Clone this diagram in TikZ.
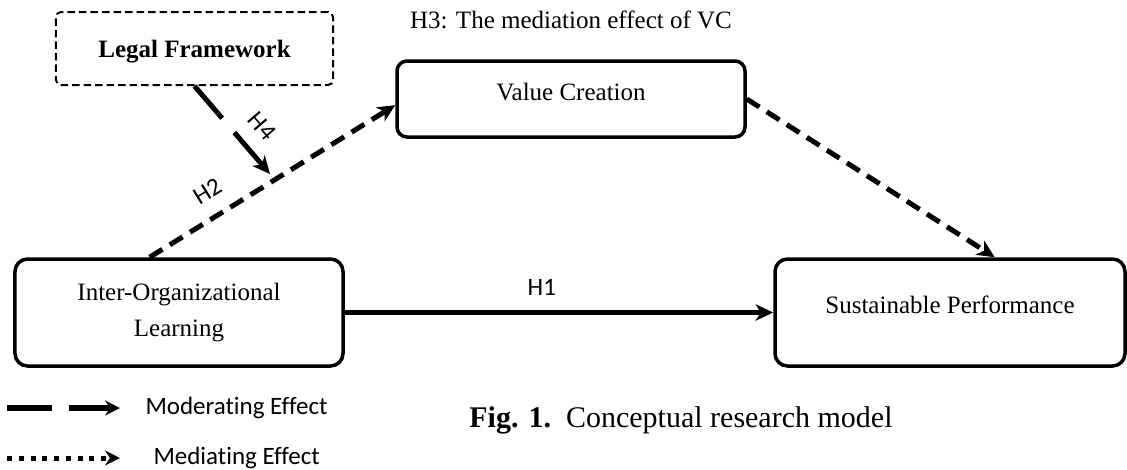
\documentclass[tikz,border=0pt]{standalone}
\usepackage{fontspec}
\setmainfont{Liberation Serif}
\newfontfamily\calibri[Ligatures=NoCommon]{Carlito}
\usetikzlibrary{arrows.meta,positioning}
\tikzset{
  box/.style={draw,line width=1.4pt,rounded corners=4pt,inner sep=0pt,align=center},
  hyp/.style={font=\calibri,inner sep=1pt},
  tip/.style={-{Stealth[length=7pt,width=6.5pt,inset=2pt]}},
  medline/.style={tip,line width=2pt,dash pattern=on 6pt off 3.5pt},
  legtip/.style={-{Stealth[length=6pt,width=6pt,inset=2pt]}}
}
\begin{document}
\begin{tikzpicture}[x=0.4pt,y=-0.4pt]
\useasboundingbox (0,0) rectangle (1127,469);
\node[box,dash pattern=on 3pt off 1.6pt,line width=0.8pt,rounded corners=2pt,minimum width=110.8pt,minimum height=29.2pt,text depth=0pt,font=\bfseries](lf) at (194.5,48.5){Legal Framework};
\node[box,minimum width=139.2pt,minimum height=30.4pt,text depth=6pt](vc) at (571,99){Value Creation};
\node[box,rounded corners=5pt,minimum width=131.2pt,minimum height=42.8pt](iol) at (179,312.5){Inter-Organizational\\[2.4pt]Learning};
\node[box,rounded corners=5pt,minimum width=140pt,minimum height=42.8pt,text depth=6.5pt](sp) at (950,312.5){Sustainable Performance};
\node[inner sep=0pt,above=12pt of vc](h3){H3: The mediation effect of VC};
\coordinate(h4tip) at (270,174);
\draw[medline](iol.118)--node[hyp,sloped,above=5pt,pos=0.29](h2){H2}(vc.182);
\draw[medline](vc.east)--(sp.51);
\draw[tip,line width=2pt](iol.east)--node[hyp,above=5pt,pos=0.46](h1){H1}(sp.west);
\draw[tip,line width=2pt,dash pattern=on 17pt off 7.5pt on 40pt off 0pt](lf.south)--node[hyp,sloped,above=5pt,pos=0.64](h4){H4}(h4tip);
\coordinate(md1) at (7,408);
\coordinate(md2) at (120,408);
\draw[legtip,line width=2.4pt,dash pattern=on 18pt off 6.8pt](md1)--(md2);
\coordinate(me1) at (7,458);
\coordinate(me2) at (120,458);
\draw[legtip,line width=2pt,dash pattern=on 2pt off 2.7pt](me1)--(me2);
\node[hyp,anchor=west,inner sep=0pt](modtxt) at (145,408){Moderating Effect};
\node[hyp,anchor=west,inner sep=0pt](medtxt) at (153,458){Mediating Effect};
\node[anchor=base,font=\fontsize{12}{14}\selectfont](cap) at (681,427){\textbf{Fig. 1.}\enspace Conceptual research model};
\end{tikzpicture}
\end{document}
